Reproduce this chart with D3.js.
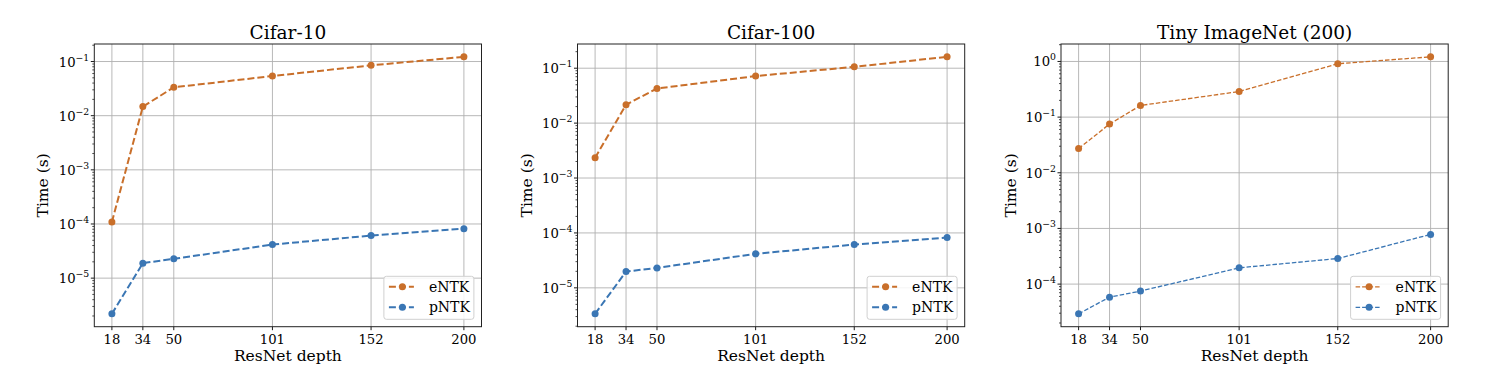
<!DOCTYPE html>
<html>
<head>
<meta charset="utf-8">
<script src="https://cdn.jsdelivr.net/npm/d3@7"></script>
<style>
  html, body { margin: 0; padding: 0; background: #fff; }
  svg { display: block; }
  text { font-family: "DejaVu Serif", serif; fill: #000; }
</style>
</head>
<body>
<svg id="chart" width="1494" height="392"></svg>
<script>
// ---------- data ----------
const depths = [18, 34, 50, 101, 152, 200];
const depthTickLabels = ["18", "34", "50", "101", "152", "200"];
const seriesNames = ["eNTK", "pNTK"];
const panelTitles = ["Cifar-10", "Cifar-100", "Tiny ImageNet (200)"];

const cifar10_eNTK  = [1.09e-4, 0.0147, 0.0334, 0.054, 0.085, 0.122];
const cifar10_pNTK  = [2.19e-6, 1.89e-5, 2.27e-5, 4.17e-5, 6.1e-5, 8.2e-5];
const cifar100_eNTK = [2.34e-3, 0.0216, 0.0427, 0.0718, 0.106, 0.161];
const cifar100_pNTK = [3.36e-6, 1.98e-5, 2.31e-5, 4.16e-5, 6.15e-5, 8.24e-5];
const tiny_eNTK     = [0.0273, 0.0749, 0.162, 0.288, 0.91, 1.21];
const tiny_pNTK     = [2.92e-5, 5.83e-5, 7.49e-5, 1.96e-4, 2.88e-4, 7.8e-4];

const xLabel = "ResNet depth";
const yLabel = "Time (s)";

// ---------- styles ----------
const colors = ["#c96f2a", "#3a76b4"];
const panels = [
  { title: panelTitles[0], data: [cifar10_eNTK, cifar10_pNTK],   left: 94.3,  lw: 2,   dash: "7,3" },
  { title: panelTitles[1], data: [cifar100_eNTK, cifar100_pNTK], left: 577.5, lw: 2,   dash: "7,3" },
  { title: panelTitles[2], data: [tiny_eNTK, tiny_pNTK],         left: 1061,  lw: 1.3, dash: "4.5,2" }
];
const plotW = 387.2, plotTop = 44, plotBottom = 326.7;

const svg = d3.select("#chart");
const supers = {"-":"\u2212","0":"0","1":"1","2":"2","3":"3","4":"4","5":"5","6":"6","7":"7","8":"8","9":"9"};

panels.forEach(p => {
  const g = svg.append("g");
  const xMin = d3.min(depths), xMax = d3.max(depths);
  const xPad = (xMax - xMin) * 0.05;
  const x = d3.scaleLinear().domain([xMin - xPad, xMax + xPad]).range([p.left, p.left + plotW]);

  const all = p.data.flat();
  const lmin = Math.log10(d3.min(all)), lmax = Math.log10(d3.max(all));
  const lpad = (lmax - lmin) * 0.05;
  const y = d3.scaleLog().domain([Math.pow(10, lmin - lpad), Math.pow(10, lmax + lpad)]).range([plotBottom, plotTop]);

  const dec0 = Math.ceil(lmin - lpad), dec1 = Math.floor(lmax + lpad);
  const majors = d3.range(dec0, dec1 + 1);
  const minors = [];
  for (let d = Math.floor(lmin - lpad); d <= dec1; d++) {
    for (let k = 2; k <= 9; k++) {
      const v = k * Math.pow(10, d);
      const lv = Math.log10(v);
      if (lv >= lmin - lpad && lv <= lmax + lpad) minors.push(v);
    }
  }

  // grid
  g.append("g").selectAll("line").data(depths).join("line")
    .attr("x1", d => x(d)).attr("x2", d => x(d)).attr("y1", plotTop).attr("y2", plotBottom)
    .attr("stroke", "#b0b0b0").attr("stroke-width", 0.9);
  g.append("g").selectAll("line").data(majors).join("line")
    .attr("x1", p.left).attr("x2", p.left + plotW)
    .attr("y1", d => y(Math.pow(10, d))).attr("y2", d => y(Math.pow(10, d)))
    .attr("stroke", "#b0b0b0").attr("stroke-width", 0.9);

  // ticks
  g.append("g").selectAll("line").data(depths).join("line")
    .attr("x1", d => x(d)).attr("x2", d => x(d)).attr("y1", plotBottom).attr("y2", plotBottom + 3.5)
    .attr("stroke", "#000").attr("stroke-width", 0.9);
  g.append("g").selectAll("line").data(majors).join("line")
    .attr("x1", p.left - 3.5).attr("x2", p.left)
    .attr("y1", d => y(Math.pow(10, d))).attr("y2", d => y(Math.pow(10, d)))
    .attr("stroke", "#000").attr("stroke-width", 0.9);
  g.append("g").selectAll("line").data(minors).join("line")
    .attr("x1", p.left - 2).attr("x2", p.left)
    .attr("y1", d => y(d)).attr("y2", d => y(d))
    .attr("stroke", "#000").attr("stroke-width", 0.7);

  // tick labels
  g.append("g").selectAll("text").data(depths).join("text")
    .attr("x", d => x(d)).attr("y", 343.5).attr("text-anchor", "middle")
    .attr("font-size", 13.2).text((d, i) => depthTickLabels[i]);
  const yl = g.append("g").selectAll("text").data(majors).join("text")
    .attr("x", p.left - 5).attr("y", d => y(Math.pow(10, d)) + 5)
    .attr("text-anchor", "end").attr("font-size", 13.2);
  yl.append("tspan").text("10");
  yl.append("tspan").attr("dy", -6).attr("font-size", 9.3)
    .text(d => String(d).split("").map(c => supers[c]).join(""));

  // spines
  g.append("rect").attr("x", p.left).attr("y", plotTop).attr("width", plotW).attr("height", plotBottom - plotTop)
    .attr("fill", "none").attr("stroke", "#222").attr("stroke-width", 1);

  // series
  p.data.forEach((vals, si) => {
    const pts = depths.map((d, i) => [d, vals[i]]);
    g.append("path").datum(pts)
      .attr("d", d3.line().x(d => x(d[0])).y(d => y(d[1])))
      .attr("fill", "none").attr("stroke", colors[si]).attr("stroke-width", p.lw)
      .attr("stroke-dasharray", p.dash);
    g.append("g").selectAll("circle").data(pts).join("circle")
      .attr("cx", d => x(d[0])).attr("cy", d => y(d[1])).attr("r", 3.5)
      .attr("fill", colors[si]);
  });

  // title & labels
  g.append("text").attr("x", p.left + plotW / 2).attr("y", 39).attr("text-anchor", "middle")
    .attr("font-size", 18.5).text(p.title);
  g.append("text").attr("x", p.left + plotW / 2).attr("y", 361).attr("text-anchor", "middle")
    .attr("font-size", 15.5).text(xLabel);
  const ylOffsets = { 94.3: 51.3, 577.5: 50.8, 1061: 50.3 };
  g.append("text").attr("transform", `translate(${p.left - ylOffsets[p.left] + 5},${(plotTop + plotBottom) / 2}) rotate(-90)`)
    .attr("text-anchor", "middle").attr("font-size", 15.5).text(yLabel);

  // legend
  const lgW = 90, lgH = 43;
  const lgX = p.left + plotW - 7.6 - lgW, lgY = plotBottom - 7.4 - lgH;
  const lg = g.append("g");
  lg.append("rect").attr("x", lgX).attr("y", lgY).attr("width", lgW).attr("height", lgH)
    .attr("rx", 2.5).attr("fill", "#fff").attr("fill-opacity", 0.85)
    .attr("stroke", "#d0d0d0").attr("stroke-width", 1);
  seriesNames.forEach((name, si) => {
    const cy = lgY + 10.5 + si * 20.5;
    lg.append("line").attr("x1", lgX + 5).attr("x2", lgX + 30).attr("y1", cy).attr("y2", cy)
      .attr("stroke", colors[si]).attr("stroke-width", p.lw).attr("stroke-dasharray", p.dash);
    lg.append("circle").attr("cx", lgX + 18.5).attr("cy", cy).attr("r", 3.5).attr("fill", colors[si]);
    lg.append("text").attr("x", lgX + 45).attr("y", cy + 5).attr("font-size", 14).text(name);
  });
});
</script>
</body>
</html>
